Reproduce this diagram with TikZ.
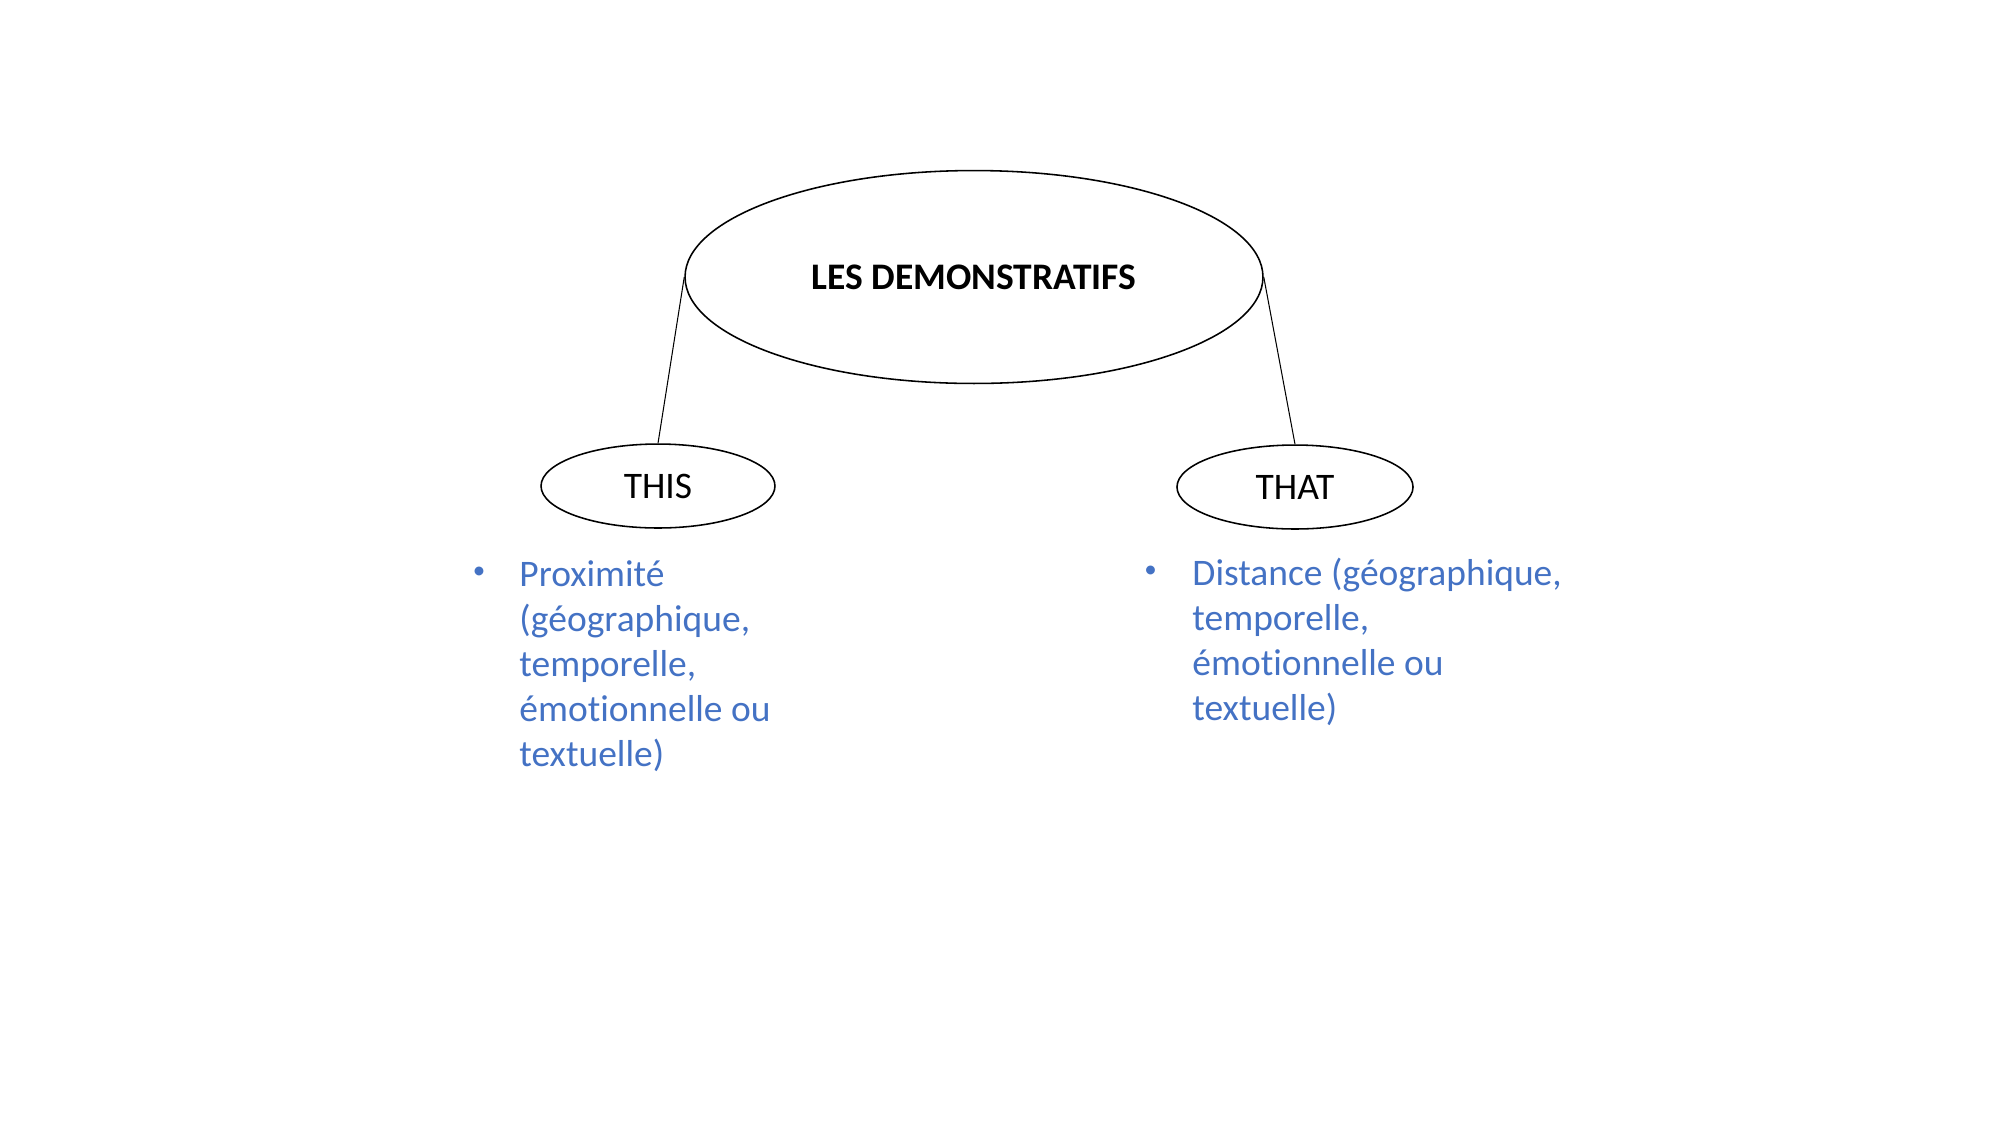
\documentclass[tikz,border=0pt]{standalone}
\usepackage{fontspec}
\setmainfont[Ligatures=NoCommon]{Carlito}
\usetikzlibrary{shapes.geometric}
\definecolor{bluetext}{RGB}{68,114,196}
\tikzset{
  oval/.style={ellipse, draw=black, line width=0.75pt, inner sep=0pt, font=\fontsize{18}{21.6}\selectfont},
  link/.style={draw=black, line width=0.5pt},
  bline/.style={anchor=base west, inner sep=0pt, text=bluetext, font=\fontsize{18}{21.6}\selectfont},
  bdot/.style={anchor=center, inner sep=0pt, text=bluetext, font=\fontsize{12}{14}\selectfont},
}
\begin{document}
\begin{tikzpicture}[x=0.48pt,y=-0.48pt]
\useasboundingbox (0,0) rectangle (2000,1125);
\node[oval, minimum width=277.4pt, minimum height=102.2pt, font=\fontsize{18}{21.6}\selectfont\bfseries] (top) at (974,277) {LES DEMONSTRATIFS};
\node[oval, minimum width=112.3pt, minimum height=40.3pt] (this) at (658,486) {THIS};
\node[oval, minimum width=113.3pt, minimum height=40.3pt] (that) at (1295,487) {THAT};
\draw[link] (top.west) -- (this.north);
\draw[link] (top.east) -- (that.north);
% left bullet
\node[bdot] (lb) at (479,573) {•};
\node[bline] (l1) at (519,586) {Proximité};
\node[bline] (l2) at (519,631) {(géographique,};
\node[bline] (l3) at (519,676) {temporelle,};
\node[bline] (l4) at (519,721) {émotionnelle ou};
\node[bline] (l5) at (519,766) {textuelle)};
% right bullet
\node[bdot] (rb) at (1150.5,572) {•};
\node[bline] (r1) at (1192,585) {Distance (géographique,};
\node[bline] (r2) at (1192,630) {temporelle,};
\node[bline] (r3) at (1192,675) {émotionnelle ou};
\node[bline] (r4) at (1192,720) {textuelle)};
\end{tikzpicture}
\end{document}
